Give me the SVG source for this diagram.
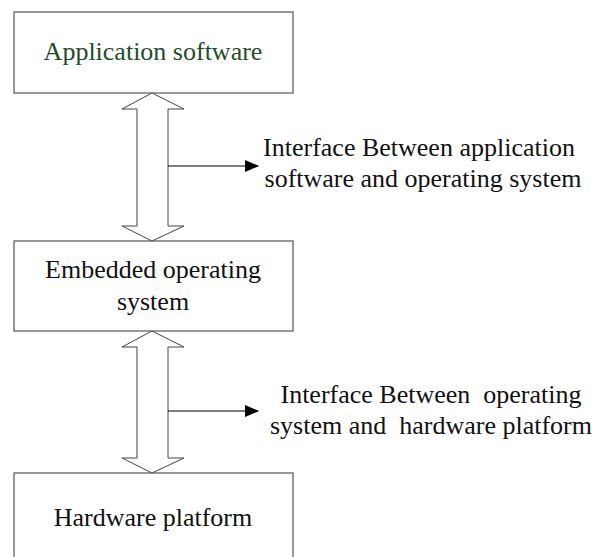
<svg xmlns="http://www.w3.org/2000/svg" width="599" height="557" viewBox="0 0 599 557">
<style>
.box{fill:#fff;stroke:#555;stroke-width:1.2}
.dbl{fill:#fff;stroke:#444;stroke-width:1}
.ln{stroke:#000;stroke-width:1.2;fill:none}
text{font-family:"Liberation Serif","Times New Roman",serif;font-size:26px;fill:#111;text-anchor:middle;white-space:pre}
</style>
<defs>
<marker id="ah" markerWidth="14" markerHeight="12" refX="13" refY="6" orient="auto" markerUnits="userSpaceOnUse">
<path d="M0,0 L14,6 L0,12 Z" fill="#000"/>
</marker>
</defs>
<g id="node-app">
<rect class="box" x="14" y="12" width="279" height="81"/>
<text x="153" y="60" style="fill:#1e4d2b">Application software</text>
</g>
<g id="node-os">
<rect class="box" x="14" y="241" width="279" height="90"/>
<text x="153" y="278">Embedded operating</text>
<text x="153" y="310">system</text>
</g>
<g id="node-hw">
<rect class="box" x="14" y="473" width="279" height="100"/>
<text x="153" y="526">Hardware platform</text>
</g>
<g id="connectors">
<path class="dbl" d="M152,93 L184,109 L168,109 L168,226 L184,226 L152,241 L122,226 L137,226 L137,109 L122,109 Z"/>
<path class="dbl" d="M152,331 L184,347 L168,347 L168,458 L184,458 L152,473 L122,458 L137,458 L137,347 L122,347 Z"/>
<line class="ln" x1="168" y1="166" x2="258" y2="166" marker-end="url(#ah)"/>
<line class="ln" x1="168" y1="411" x2="258" y2="411" marker-end="url(#ah)"/>
</g>
<g id="labels">
<text x="419" y="156">Interface Between application</text>
<text x="423" y="187">software and operating system</text>
<text x="431" y="403">Interface Between  operating</text>
<text x="431" y="434">system and  hardware platform</text>
</g>
</svg>
